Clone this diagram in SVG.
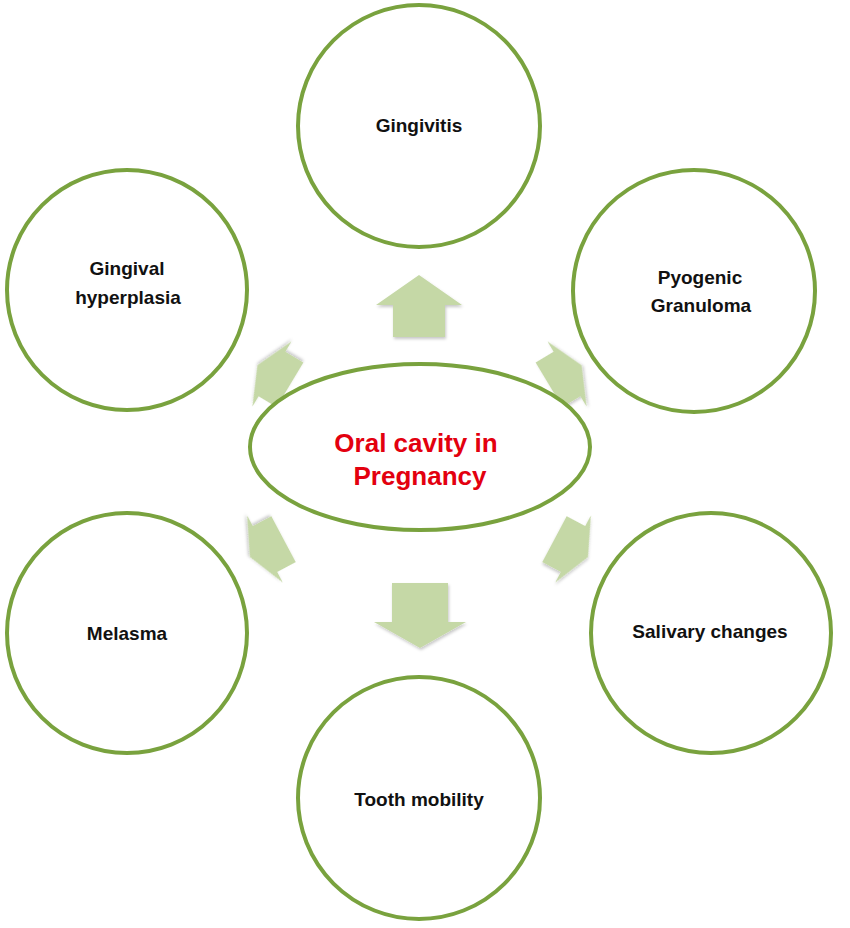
<svg xmlns="http://www.w3.org/2000/svg" width="850" height="928" viewBox="0 0 850 928">
  <defs>
    <filter id="sh" x="-20%" y="-20%" width="140%" height="140%">
      <feDropShadow dx="1" dy="2" stdDeviation="1.5" flood-color="#000" flood-opacity="0.22"/>
    </filter>
    <polygon id="diag" points="17,0 0,38 0,26 -21,26 -21,-26 0,-26 0,-38"/>
  </defs>
  <style>
    .arrow { fill: #c5d8a6; filter: url(#sh); }
    .node { fill: #ffffff; stroke: #79a23e; stroke-width: 4; }
    .lbl { font-family: "Liberation Sans", Arial, sans-serif; font-weight: bold; font-size: 19px; fill: #111111; text-anchor: middle; }
    .ctr { font-family: "Liberation Sans", Arial, sans-serif; font-weight: bold; font-size: 26px; fill: #e3000f; text-anchor: middle; }
  </style>
  <rect width="850" height="928" fill="#ffffff"/>
  <g id="connectors">
    <polygon class="arrow" points="419,275 462,305 445,305 445,337 393,337 393,305 376,305"/>
    <polygon class="arrow" points="392,583 448,583 448,622 466,622 420,648 374,622 392,622"/>
    <use href="#diag" class="arrow" transform="translate(567,374) rotate(-31)"/>
    <use href="#diag" class="arrow" transform="translate(272,374) rotate(-149)"/>
    <use href="#diag" class="arrow" transform="translate(573,549) rotate(28)"/>
    <use href="#diag" class="arrow" transform="translate(265,549) rotate(152)"/>
  </g>
  <g id="center">
    <ellipse class="node" cx="420" cy="447" rx="170" ry="83"/>
    <text class="ctr" x="416" y="452">Oral cavity in</text>
    <text class="ctr" x="420" y="485">Pregnancy</text>
  </g>
  <g id="gingivitis">
    <circle class="node" cx="419" cy="126" r="121"/>
    <text class="lbl" x="419" y="132">Gingivitis</text>
  </g>
  <g id="gingival-hyperplasia">
    <circle class="node" cx="127" cy="290" r="120"/>
    <text class="lbl" x="127" y="275">Gingival</text>
    <text class="lbl" x="128" y="304">hyperplasia</text>
  </g>
  <g id="pyogenic-granuloma">
    <circle class="node" cx="694" cy="291" r="121"/>
    <text class="lbl" x="700" y="284">Pyogenic</text>
    <text class="lbl" x="701" y="312">Granuloma</text>
  </g>
  <g id="melasma">
    <circle class="node" cx="127" cy="633" r="120"/>
    <text class="lbl" x="127" y="640">Melasma</text>
  </g>
  <g id="salivary-changes">
    <circle class="node" cx="711" cy="633" r="120"/>
    <text class="lbl" x="710" y="638">Salivary changes</text>
  </g>
  <g id="tooth-mobility">
    <circle class="node" cx="419" cy="798" r="121"/>
    <text class="lbl" x="419" y="806">Tooth mobility</text>
  </g>
</svg>
